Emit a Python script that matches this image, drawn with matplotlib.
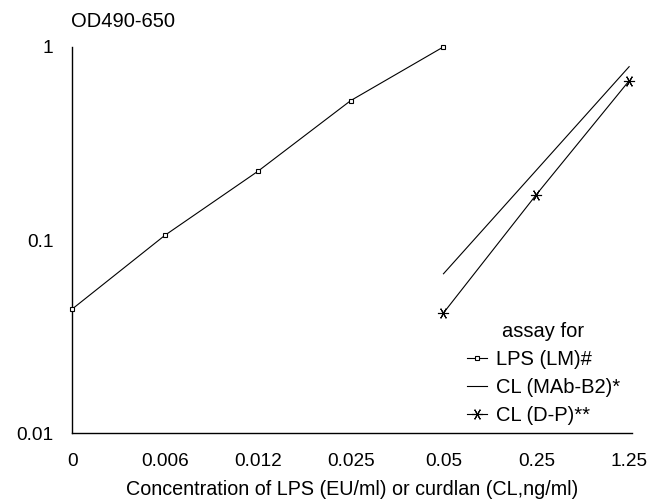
import matplotlib
matplotlib.use("Agg")
import matplotlib.pyplot as plt

plt.rcParams['font.family'] = ['Liberation Sans', 'DejaVu Sans']

x_labels = ["0", "0.006", "0.012", "0.025", "0.05", "0.25", "1.25"]
x_pos = [0, 1, 2, 3, 4, 5, 6]

lps_x = [0, 1, 2, 3, 4]
lps_od = [0.044, 0.106, 0.227, 0.527, 1.0]

cl_x = [4, 5, 6]
cl_mab_od = [0.067, 0.23, 0.79]
cl_dp_od = [0.042, 0.172, 0.668]

fig = plt.figure(figsize=(6.68, 5.04), dpi=100)
ax = fig.add_axes([0.108, 0.14, 0.838, 0.767])

ax.plot(lps_x, lps_od, color="black", lw=0.8, marker="s", ms=3.5,
        mfc="white", mec="black", mew=0.8, label="LPS (LM)#",
        clip_on=False, zorder=3)
ax.plot(cl_x, cl_mab_od, color="black", lw=0.8, label="CL (MAb-B2)*")
ax.plot(cl_x, cl_dp_od, color="black", lw=0.8, marker=(6, 2, 90), ms=8,
        mew=0.8, label="CL (D-P)**", clip_on=False)

ax.set_yscale("log")
ax.set_ylim(0.01, 1)
ax.set_xlim(0, 6.03)
ax.set_yticks([0.01, 0.1, 1])
ax.set_yticklabels(["0.01", "0.1", "1"])
ax.minorticks_off()
ax.set_xticks(x_pos)
ax.set_xticklabels(x_labels)
ax.tick_params(length=0, labelsize=13.7)
ax.tick_params(axis="x", pad=14)
ax.tick_params(axis="y", pad=13.5)

for s in ["top", "right"]:
    ax.spines[s].set_visible(False)
for s in ["left", "bottom"]:
    ax.spines[s].set_linewidth(1.0)

ax.set_xlabel("Concentration of LPS (EU/ml) or curdlan (CL,ng/ml)", fontsize=14.2, labelpad=7)
fig.text(0.106, 0.958, "OD490-650", fontsize=14.5, ha="left", va="center")

leg = ax.legend(loc="lower right", bbox_to_anchor=(1.0, -0.01), frameon=False,
                title="assay for", fontsize=14.5, title_fontsize=14.5,
                handlelength=1.0, handletextpad=0.45, labelspacing=0.45,
                borderaxespad=0.2)

fig.savefig("out.png", dpi=100)
